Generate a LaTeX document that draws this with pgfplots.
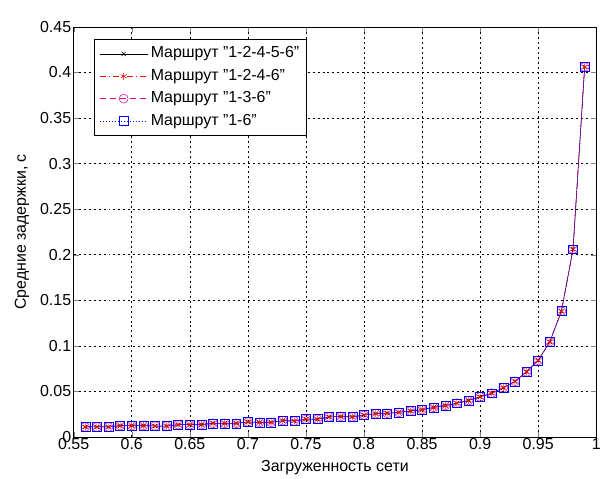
\documentclass[border=0pt]{standalone}
\usepackage{fontspec}
\setmainfont{Liberation Sans}[Ligatures=ResetAll]
\usepackage{pgfplots}
\pgfplotsset{compat=1.18}
\usepackage{pgfplotstable}
\usetikzlibrary{calc}

\pgfplotstableread{
x y
0.56 0.0110
0.57 0.0110
0.58 0.0110
0.59 0.0125
0.60 0.0125
0.61 0.0125
0.62 0.0120
0.63 0.0120
0.64 0.0135
0.65 0.0135
0.66 0.0135
0.67 0.0150
0.68 0.0150
0.69 0.0150
0.70 0.0165
0.71 0.0160
0.72 0.0160
0.73 0.0180
0.74 0.0175
0.75 0.0195
0.76 0.0195
0.77 0.0220
0.78 0.0225
0.79 0.0220
0.80 0.0240
0.81 0.0255
0.82 0.0260
0.83 0.0270
0.84 0.0285
0.85 0.0300
0.86 0.0325
0.87 0.0345
0.88 0.0370
0.89 0.0400
0.90 0.0440
0.91 0.0480
0.92 0.0540
0.93 0.0610
0.94 0.0715
0.95 0.0840
0.96 0.1045
0.97 0.1380
0.98 0.2060
0.99 0.4060
}\routeA
\pgfplotstableread{
x y
0.56 0.0110
0.57 0.0110
0.58 0.0110
0.59 0.0125
0.60 0.0125
0.61 0.0125
0.62 0.0120
0.63 0.0120
0.64 0.0135
0.65 0.0135
0.66 0.0135
0.67 0.0150
0.68 0.0150
0.69 0.0150
0.70 0.0165
0.71 0.0160
0.72 0.0160
0.73 0.0180
0.74 0.0175
0.75 0.0195
0.76 0.0195
0.77 0.0220
0.78 0.0225
0.79 0.0220
0.80 0.0240
0.81 0.0255
0.82 0.0260
0.83 0.0270
0.84 0.0285
0.85 0.0300
0.86 0.0325
0.87 0.0345
0.88 0.0370
0.89 0.0400
0.90 0.0440
0.91 0.0480
0.92 0.0540
0.93 0.0610
0.94 0.0715
0.95 0.0840
0.96 0.1045
0.97 0.1380
0.98 0.2060
0.99 0.4060
}\routeB
\pgfplotstableread{
x y
0.56 0.0110
0.57 0.0110
0.58 0.0110
0.59 0.0125
0.60 0.0125
0.61 0.0125
0.62 0.0120
0.63 0.0120
0.64 0.0135
0.65 0.0135
0.66 0.0135
0.67 0.0150
0.68 0.0150
0.69 0.0150
0.70 0.0165
0.71 0.0160
0.72 0.0160
0.73 0.0180
0.74 0.0175
0.75 0.0195
0.76 0.0195
0.77 0.0220
0.78 0.0225
0.79 0.0220
0.80 0.0240
0.81 0.0255
0.82 0.0260
0.83 0.0270
0.84 0.0285
0.85 0.0300
0.86 0.0325
0.87 0.0345
0.88 0.0370
0.89 0.0400
0.90 0.0440
0.91 0.0480
0.92 0.0540
0.93 0.0610
0.94 0.0715
0.95 0.0840
0.96 0.1045
0.97 0.1380
0.98 0.2060
0.99 0.4060
}\routeC
\pgfplotstableread{
x y
0.56 0.0110
0.57 0.0110
0.58 0.0110
0.59 0.0125
0.60 0.0125
0.61 0.0125
0.62 0.0120
0.63 0.0120
0.64 0.0135
0.65 0.0135
0.66 0.0135
0.67 0.0150
0.68 0.0150
0.69 0.0150
0.70 0.0165
0.71 0.0160
0.72 0.0160
0.73 0.0180
0.74 0.0175
0.75 0.0195
0.76 0.0195
0.77 0.0220
0.78 0.0225
0.79 0.0220
0.80 0.0240
0.81 0.0255
0.82 0.0260
0.83 0.0270
0.84 0.0285
0.85 0.0300
0.86 0.0325
0.87 0.0345
0.88 0.0370
0.89 0.0400
0.90 0.0440
0.91 0.0480
0.92 0.0540
0.93 0.0610
0.94 0.0715
0.95 0.0840
0.96 0.1045
0.97 0.1380
0.98 0.2060
0.99 0.4060
}\routeD

\begin{document}
\begin{tikzpicture}
\begin{axis}[
  scale only axis,
  width=525pt, height=412pt,
  xmin=0.55, xmax=1, ymin=0, ymax=0.45,
  xtick={0.55,0.6,0.65,0.7,0.75,0.8,0.85,0.9,0.95,1},
  xticklabels={0.55,0.6,0.65,0.7,0.75,0.8,0.85,0.9,0.95,1},
  ytick={0,0.05,0.1,0.15,0.2,0.25,0.3,0.35,0.4,0.45},
  yticklabels={0,0.05,0.1,0.15,0.2,0.25,0.3,0.35,0.4,0.45},
  tick align=inside,
  major tick length=5pt,
  xtick pos=both, ytick pos=both,
  tick label style={font=\fontsize{16}{18}\selectfont},
  xticklabel style={yshift=2pt},
  yticklabel style={xshift=1pt},
  grid=major,
  major grid style={black, line width=0.5pt, dash pattern=on 2pt off 3pt},
  axis line style={black, line width=0.6pt},
  xlabel={Загруженность сети},
  ylabel={Средние задержки, с},
  label style={font=\fontsize{16}{18}\selectfont},
  xlabel style={at={(axis description cs:0.5,0)}, anchor=north, yshift=-20pt},
  ylabel style={at={(axis description cs:0,0.5)}, anchor=center, yshift=52pt},
  legend cell align=left,
  legend style={
    at={(rel axis cs:0.0394,0.970)}, anchor=north west,
    font=\fontsize{16}{18}\selectfont,
    draw=black, line width=0.6pt, fill=white,
    inner xsep=5pt, inner ysep=5pt,
    nodes={inner sep=2pt, text height=11.5pt, text depth=3.5pt},
    row sep=3.5pt, column sep=1pt
  },
  legend image code/.code={
    \draw[#1, mark repeat=2, mark phase=2] plot coordinates {(0pt,0pt) (24pt,0pt) (48pt,0pt)};
  },
]
\addplot[black, line width=0.5pt, mark=x, mark size=3pt, mark options={solid}] table[x=x,y=y] {\routeA};
\addlegendentry{Маршрут "1-2-4-5-6"}
\addplot[red, line width=0.5pt, dash pattern=on 6pt off 3pt on 1.5pt off 3pt, mark=asterisk, mark size=3.5pt, mark options={solid}] table[x=x,y=y] {\routeB};
\addlegendentry{Маршрут "1-2-4-6"}
\addplot[magenta, line width=0.5pt, dash pattern=on 6pt off 4pt, mark=o, mark size=4.5pt, mark options={solid}] table[x=x,y=y] {\routeC};
\addlegendentry{Маршрут "1-3-6"}
\addplot[blue, line width=0.5pt, dash pattern=on 1.5pt off 1.5pt, mark=square, mark size=4.5pt, mark options={solid}] table[x=x,y=y] {\routeD};
\addlegendentry{Маршрут "1-6"}
\coordinate (sw) at (rel axis cs:0,0);
\coordinate (ne) at (rel axis cs:1,1);
\end{axis}
\path ($(sw)+(-74pt,-42pt)$) rectangle ($(ne)+(5pt,27pt)$);
\end{tikzpicture}
\end{document}
